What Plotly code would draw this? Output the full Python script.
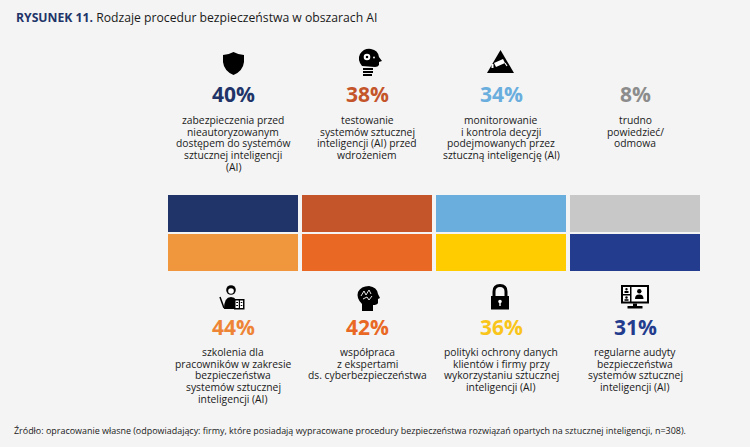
import re
import plotly.graph_objects as go

# dane
top_labels = [
    "zabezpieczenia przed<br>nieautoryzowanym<br>dostępem do systemów<br>sztucznej inteligencji<br>(AI)",
    "testowanie<br>systemów sztucznej<br>inteligencji (AI) przed<br>wdrożeniem",
    "monitorowanie<br>i kontrola decyzji<br>podejmowanych przez<br>sztuczną inteligencję (AI)",
    "trudno<br>powiedzieć/<br>odmowa",
]
top_values = [40, 38, 34, 8]
bottom_labels = [
    "szkolenia dla<br>pracowników w zakresie<br>bezpieczeństwa<br>systemów sztucznej<br>inteligencji (AI)",
    "współpraca<br>z ekspertami<br>ds. cyberbezpieczeństwa",
    "polityki ochrony danych<br>klientów i firmy przy<br>wykorzystaniu sztucznej<br>inteligencji (AI)",
    "regularne audyty<br>bezpieczeństwa<br>systemów sztucznej<br>inteligencji (AI)",
]
bottom_values = [44, 42, 36, 31]
columns = [0, 1, 2, 3]
tile_size = [1, 1, 1, 1]

# kolory
top_tile_colors = ["#213469", "#C4552A", "#6AAEDE", "#C8C8C8"]
top_text_colors = ["#213469", "#C4552A", "#6AAEDE", "#8C8C8C"]
bottom_tile_colors = ["#F0973E", "#E96824", "#FFCC00", "#233C8E"]
bottom_text_colors = ["#EE8436", "#E96824", "#F9C51B", "#233C8E"]

BG = "#F4F4F4"
W, H = 750, 447
LABEL_FONT = "Open Sans"


def fx(x):
    return x / W


def fy(y):
    return 1 - y / H


def path(d, fill="black", line=0, line_color="black"):
    # ścieżka w pikselach -> współrzędne papieru
    d = re.sub(r"(-?[\d.]+),(-?[\d.]+)",
               lambda m: f"{fx(float(m.group(1))):.5f},{fy(float(m.group(2))):.5f}", d)
    return dict(type="path", xref="paper", yref="paper", path=d, fillcolor=fill,
                line=dict(width=line, color=line_color))


def rect(x0, y0, x1, y1, fill="black"):
    return dict(type="rect", xref="paper", yref="paper", x0=fx(x0), x1=fx(x1),
                y0=fy(y1), y1=fy(y0), fillcolor=fill, line=dict(width=0))


def circle(cx, cy, r, fill="black"):
    return dict(type="circle", xref="paper", yref="paper", x0=fx(cx - r), x1=fx(cx + r),
                y0=fy(cy + r), y1=fy(cy - r), fillcolor=fill, line=dict(width=0))


NONE = "rgba(0,0,0,0)"

icons = [
    # tarcza
    path("M223,55 Q228,55 233.5,52 Q239,55 244,55 L244,62 Q243,71 233.5,75 Q224,71 223,62 Z"),
    # głowa z kołem zębatym
    path("M362,66 Q357,60 360,54 Q364,48 371,49 Q378,50 379,57 L382,61 L379,62 L379,65 Q378,67 375,67 Z"),
    rect(363, 68, 373, 70), rect(363, 71, 373, 73), rect(363, 74, 372, 76),
    circle(367, 57, 3.3, "white"), circle(367, 57, 1.3), circle(374, 57.5, 0.9, "white"),
    # trójkąt z kamerą
    path("M500.5,50 L514,73 L487,73 Z"),
    path("M494,63 L503,59 L505,63 L496,67 Z", fill="white"),
    rect(491.5, 64, 493.5, 68, "white"),
    path("M505,63 L507,66", fill=NONE, line=1.2, line_color="white"),
    # szkolenia
    circle(231, 290, 4.8), circle(231, 291, 2.8, "white"),
    path("M224,309 Q224,297 231,297 Q238,297 238,309 Z"),
    path("M220,297 L224,308", fill=NONE, line=1.5),
    rect(234, 299, 244.5, 309.5, "black"),
    rect(235.5, 300.5, 238.8, 308, "white"), rect(240, 300.5, 243, 308, "white"),
    rect(236.2, 302, 238, 303, "black"), rect(240.7, 302, 242.3, 303, "black"),
    rect(236.2, 305, 238, 306, "black"), rect(240.7, 305, 242.3, 306, "black"),
    # głowa z mózgiem
    path("M362,311 L362,304 Q356,298 358,292 Q361,286 369,286 Q377,287 378,294 L380,298 L378,299 "
         "L378,303 Q377,305 373,305 L373,311 Z"),
    path("M361,296 L364,291 L366,295 L369,290 L371,294 M363,299 L367,297 L369,300 L372,296",
         fill=NONE, line=0.9, line_color="white"),
    # kłódka
    path("M494,297 L494,291.5 Q494,285.5 500,285.5 Q506,285.5 506,291.5 L506,297",
         fill=NONE, line=3),
    rect(491, 296, 509, 309.5),
    circle(500, 301.5, 1.8, "white"), rect(499.3, 302, 500.7, 306, "white"),
    # monitor
    rect(621, 285, 649, 303.5),
    rect(623, 287, 630, 294, "white"), rect(623, 295.5, 630, 301.5, "white"),
    rect(631.5, 287, 647, 301.5, "white"),
    circle(626.5, 289.3, 1.2), rect(624.5, 291, 628.5, 293),
    circle(626.5, 297.5, 1.2), rect(624.5, 299.2, 628.5, 300.8),
    circle(639.3, 291.2, 2.2), path("M635,299 Q635,294.5 639.3,294.5 Q643.5,294.5 643.5,299 Z"),
    rect(633, 303.5, 637, 306.5), rect(627.5, 306, 642.5, 308.5),
]

fig = go.Figure()
fig.add_trace(go.Bar(x=columns, y=tile_size, width=0.985, marker=dict(
    color=bottom_tile_colors, line=dict(color=BG, width=2)), hoverinfo="skip"))
fig.add_trace(go.Bar(x=columns, y=tile_size, width=0.985, marker=dict(
    color=top_tile_colors, line=dict(color=BG, width=2)), hoverinfo="skip"))

annotations = [dict(
    text="<b><span style='color:#213469'>RYSUNEK 11.</span></b> Rodzaje procedur bezpieczeństwa w obszarach AI",
    xref="paper", yref="paper", x=fx(14), y=fy(17), xanchor="left", yanchor="middle",
    showarrow=False, font=dict(family="Open Sans", size=12.2, color="#1A1A1A")),
    dict(text="Źródło: opracowanie własne (odpowiadający: firmy, które posiadają wypracowane procedury "
              "bezpieczeństwa rozwiązań opartych na sztucznej inteligencji, n=308).",
         xref="paper", yref="paper", x=fx(12), y=fy(430), xanchor="left", yanchor="middle",
         showarrow=False, font=dict(family=LABEL_FONT, size=8.95, color="#1A1A1A"))]


def add_column_text(values, labels, colors, pct_y, first_line_y):
    for col, v, lab, c in zip(columns, values, labels, colors):
        annotations.append(dict(text=f"<b>{v}%</b>", x=col, xref="x", y=fy(pct_y), yref="paper",
                                showarrow=False, xanchor="center", yanchor="middle",
                                font=dict(family="Open Sans", size=21, color=c)))
        for i, line in enumerate(lab.split("<br>")):
            annotations.append(dict(text=line, x=col, xref="x", y=fy(first_line_y + i * 11.7),
                                    yref="paper", showarrow=False, xanchor="center",
                                    yanchor="middle",
                                    font=dict(family=LABEL_FONT, size=10.3, color="#1A1A1A")))


add_column_text(top_values, top_labels, top_text_colors, 94, 120)
add_column_text(bottom_values, bottom_labels, bottom_text_colors, 327, 352)

fig.update_layout(
    width=W, height=H, barmode="stack", showlegend=False,
    paper_bgcolor=BG, plot_bgcolor=BG,
    margin=dict(l=0, r=0, t=0, b=0),
    xaxis=dict(range=[-233 / 134, (W - 233) / 134], visible=False, fixedrange=True),
    yaxis=dict(range=[-(H - 272) / 39, 272 / 39], visible=False, fixedrange=True),
    annotations=annotations, shapes=icons,
)

fig.write_html("out.html", config={"displayModeBar": False},
               post_script="document.body.style.margin = '0';")
